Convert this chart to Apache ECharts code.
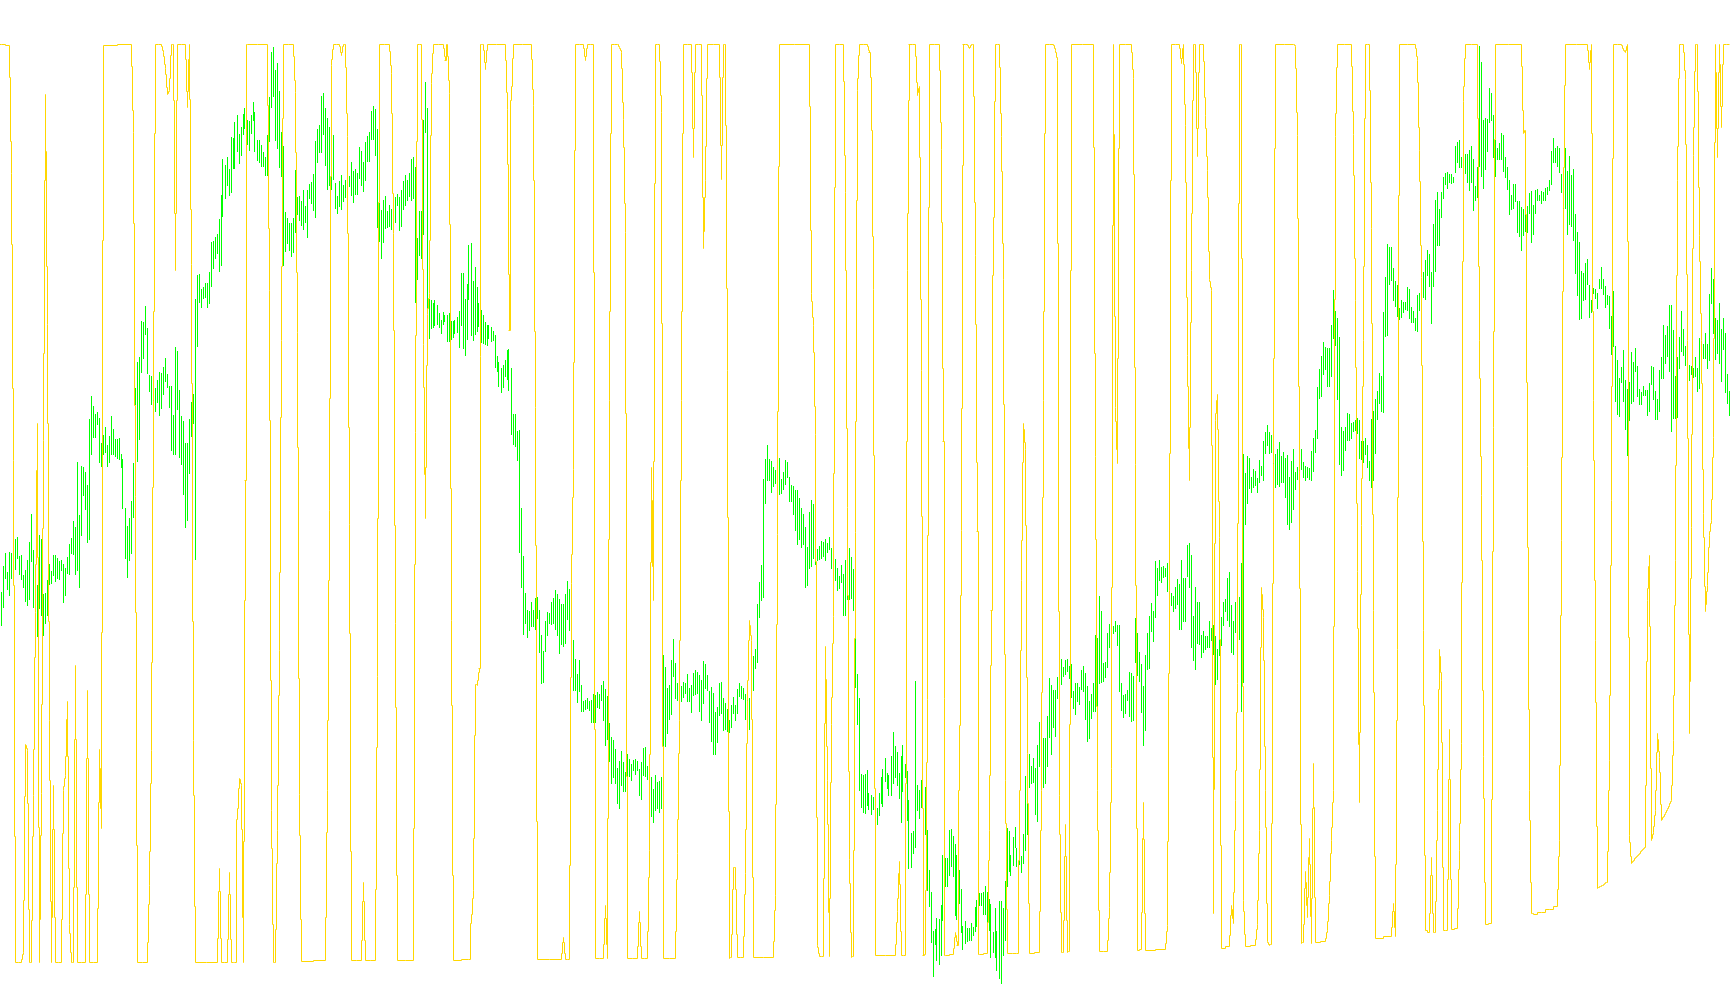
<!DOCTYPE html>
<html><head><meta charset="utf-8">
<script src="https://cdn.jsdelivr.net/npm/echarts@6/dist/echarts.min.js"></script>
<style>html,body{margin:0;padding:0;background:#fff}#c{width:1730px;height:1005px}</style>
</head><body><div id="c"></div>
<script>
// price bars, first stretch: [high, low] on the chart's downward scale
var barsA=[
[592,626],[566,608],[553,579],[572,590],[552,596],[553,579],[548,576],[539,570],[537,559],[556,575],
[555,580],[575,588],[570,602],[560,606],[542,600],[514,562],[550,608],[565,610],[585,637],[535,609],
[539,616],[594,636],[593,624],[580,616],[564,585],[571,584],[555,576],[555,582],[558,579],[561,580],
[560,571],[564,603],[568,596],[557,574],[544,575],[538,554],[521,555],[527,575],[462,571],[515,588],
[466,536],[467,496],[472,510],[485,543],[419,540],[396,455],[406,438],[414,438],[412,425],[418,463],
[443,467],[435,455],[427,453],[445,467],[436,463],[416,455],[429,455],[439,457],[439,459],[438,460],
[454,468],[459,509],[508,559],[526,578],[518,561],[501,554],[463,518],[388,405],[362,462],[357,440],
[321,373],[322,359],[306,335],[328,374],[375,392],[376,405],[397,415],[388,412],[380,403],[372,416],
[373,409],[367,395],[358,382],[374,388],[386,408],[386,451],[415,455],[347,455],[351,410],[390,458],
[416,465],[421,495],[443,528],[443,521],[419,474],[402,437],[394,424],[299,560],[275,347],[274,303],
[289,308],[287,299],[283,298],[283,308],[272,304],[242,287],[241,269],[237,259],[234,254],[219,272],
[195,266],[159,217],[165,199],[157,186],[169,196],[137,193],[138,169],[122,169],[115,152],[134,164],
[127,156],[114,135],[108,129],[120,145],[121,151],[115,134],[102,121],[112,152],[140,161],[140,163],
[145,167],[152,167],[157,176],[135,176],[97,142],[52,108],[47,97],[70,141],[63,149],[91,168],
[132,177],[146,266],[212,252],[218,244],[223,251],[223,257],[218,253],[170,233],[197,215],[196,221],
[201,226],[190,230],[206,223],[190,238],[184,199],[182,204],[174,211],[141,218],[129,163],[125,153],
[96,153],[93,135],[108,166],[118,190],[127,186],[135,190],[135,180],[183,209],[196,214],[181,207],
[175,210],[185,202],[180,198],[176,194],[176,187],[162,196],[171,203],[169,195],[173,195],[147,179],
[151,186],[162,192],[142,181],[136,162],[132,162],[111,140],[106,140],[109,156],[129,228],[203,242],
[210,259],[200,243],[196,229],[211,228],[205,227],[209,230],[217,224],[197,223],[194,206],[197,231],
[190,227],[181,210],[175,206],[180,201],[173,197],[159,201],[157,199],[167,303],[238,280],[211,256],
[211,259],[120,235],[82,133],[108,309],[299,339]];
// second stretch
var barsB=[
[300,329],[303,328],[300,326],[305,325],[313,328],[320,334],[312,325],[315,322],[315,342],[313,342],
[321,340],[321,338],[320,334],[317,333],[311,348],[273,326],[273,349],[299,356],[284,340],[245,300],
[243,336],[281,341],[267,335],[287,332],[303,327],[310,343],[315,344],[322,345],[325,346],[325,339],
[327,342],[331,341],[335,368],[356,372],[362,387],[368,393],[365,388],[360,377],[350,380],[349,391],
[368,435],[414,445],[414,447],[431,461],[430,553],[508,588],[556,635],[593,624],[610,638],[611,631],
[602,627],[610,627],[598,630],[597,619],[610,653],[635,684],[651,683],[621,652],[612,636],[613,624],
[602,625],[598,624],[590,630],[594,636],[599,654],[604,645],[604,647],[594,644],[581,620],[589,631],
[615,660],[640,691],[659,691],[674,703],[660,692],[685,712],[701,712],[700,710],[698,709],[701,711],
[700,723],[694,723],[695,723],[692,708],[694,709],[685,701],[681,721],[689,746],[696,740],[723,762],
[737,784],[740,778],[749,784],[768,804],[761,809],[751,786],[762,792],[772,792],[754,778],[759,777],
[764,781],[760,771],[759,775],[761,771],[769,796],[762,800],[748,776],[747,777],[766,780],[764,784],
[777,817],[789,823],[775,811],[782,809],[781,813],[777,809],[655,747],[667,747],[688,734],[685,720],
[660,715],[639,677],[663,699],[683,701],[686,700],[686,702],[682,698],[683,694],[674,702],[688,702],
[685,713],[673,696],[670,695],[672,694],[675,712],[680,721],[661,704],[664,689],[675,691],[691,723],
[687,742],[693,755],[712,755],[707,743],[683,716],[682,714],[698,731],[703,730],[709,732],[720,733],
[705,728],[697,714],[705,721],[689,714],[683,697],[686,699],[688,700],[694,720],[698,724],[698,730],
[672,700],[656,691],[649,669],[604,663],[582,618],[565,601],[479,598],[459,504],[445,481],[459,481],
[461,493],[467,487],[470,484],[465,482],[458,495],[479,494],[472,490],[460,485],[462,478],[477,502],
[485,502],[486,515],[490,531],[490,545],[498,540],[508,548],[514,545],[527,588],[547,586],[512,569],
[500,567],[504,559],[530,565],[549,561],[546,560],[541,559],[542,557],[539,561],[543,553],[537,550],
[548,569],[555,575],[559,581],[568,591],[576,589],[565,583],[574,616],[560,616],[568,600],[548,600],
[557,599],[569,611],[638,688],[674,725],[698,791]];
// third stretch
var barsC=[
[774,808],[775,813],[774,814],[770,806],[793,810],[795,815],[797,810],[800,815],[808,825],[793,816],
[777,804],[769,807],[758,782],[773,789],[775,796],[756,796],[732,784],[746,778],[752,786],[773,799],
[756,823],[745,792],[764,778],[771,821],[800,869],[833,868],[831,854],[681,848],[785,811],[790,819],
[780,808],[785,800],[787,835],[830,891],[870,907],[892,943],[931,977],[929,945],[918,961],[919,965],
[905,956],[855,921],[858,887],[858,887],[830,876],[829,867],[836,877],[844,916],[855,920],[870,904],
[889,933],[926,950],[921,944],[928,942],[928,941],[923,941],[927,936],[907,932],[900,927],[893,906],
[893,906],[892,915],[886,915],[892,929],[899,931],[904,958],[932,953],[908,958],[931,971],[901,979],
[901,984],[908,956],[881,941],[828,887],[831,872],[855,876],[837,866],[827,848],[848,867],[840,865],
[856,873],[834,864],[776,851],[770,835],[754,788],[766,784],[758,783],[768,815],[745,822],[722,767],
[738,788],[738,788],[738,784],[716,767],[678,738],[685,755],[690,728],[690,737],[677,699],[653,677],
[659,685],[667,677],[660,675],[659,672],[666,679],[664,698],[691,709],[683,715],[683,702],[687,705],
[670,690],[666,692],[673,720],[686,742],[701,739],[694,719],[683,712],[635,712],[638,712],[596,684],
[611,683],[663,682],[662,678],[633,668],[624,648],[626,635],[626,634],[621,632],[625,646],[625,692],
[683,711],[695,718],[694,714],[690,701],[672,717],[673,722],[676,721],[618,663],[633,676],[652,682],
[664,713],[686,746],[655,731],[633,670],[616,669],[603,632],[611,642],[561,618],[568,596],[560,581],
[567,583],[566,578],[568,577],[563,592],[570,590],[593,606],[596,612],[587,609],[579,605],[584,630],
[560,630],[578,622],[578,622],[545,577],[543,588],[555,648],[616,661],[587,670],[602,644],[602,645],
[635,658],[631,653],[636,650],[636,648],[621,648],[628,641],[625,655],[636,685],[649,680],[625,656],
[617,646],[602,626],[599,612],[578,621],[572,627],[605,653],[621,655],[602,633],[600,640],[597,640],
[563,712],[454,683],[473,525],[456,504],[458,489],[477,493],[469,488],[471,486],[478,493],[460,483],
[466,476],[441,481],[432,454],[425,446],[432,454],[435,453],[440,465],[454,488],[449,485],[442,487],
[456,483],[452,483],[458,498],[455,525],[477,530]];
// fourth stretch
var barsD=[
[461,523],[449,510],[472,490],[467,480],[470,485],[449,470],[462,478],[466,481],[467,478],[468,480],
[451,481],[438,472],[430,453],[387,439],[369,399],[356,397],[342,375],[347,370],[348,387],[348,387],
[325,377],[290,339],[311,346],[318,400],[337,465],[427,476],[431,471],[427,451],[413,441],[414,441],
[423,439],[422,432],[420,431],[418,434],[420,459],[441,460],[441,463],[438,455],[445,468],[461,481],
[419,488],[411,481],[399,454],[391,420],[373,404],[376,412],[312,413],[277,337],[244,336],[247,285],
[247,281],[268,301],[281,307],[285,317],[308,320],[300,318],[302,313],[302,310],[287,311],[289,319],
[307,323],[311,323],[318,331],[295,332],[293,311],[285,300],[272,298],[260,300],[250,276],[254,287],
[272,324],[224,287],[200,272],[192,246],[209,246],[192,218],[177,199],[173,185],[172,189],[174,183],
[174,184],[177,183],[146,173],[142,163],[140,168],[157,168],[150,170],[154,174],[154,183],[150,191],
[146,183],[159,211],[186,201],[167,198],[46,167],[62,177],[120,189],[118,170],[119,152],[88,123],
[93,121],[115,158],[140,177],[148,160],[143,160],[133,160],[135,172],[157,178],[167,190],[180,215],
[195,210],[184,209],[184,202],[201,233],[201,237],[207,251],[209,236],[208,232],[206,233],[193,214],
[191,243],[205,235],[190,214],[189,201],[195,201],[191,204],[192,201],[188,201],[187,195],[180,191],
[151,185],[138,163],[148,163],[146,167],[148,173],[174,193],[179,223],[148,209],[171,235],[156,225],
[175,227],[169,241],[214,274],[232,296],[242,320],[271,319],[273,301],[263,300],[259,285],[285,318],
[300,313],[288,294],[289,299],[293,309],[279,289],[267,289],[279,295],[286,308],[295,305],[296,329],
[316,355],[291,347],[346,402],[360,415],[378,417],[367,383],[350,402],[380,430],[389,456],[382,421],
[352,404],[362,402],[348,372],[366,397],[389,405],[392,405],[386,396],[390,396],[390,416],[383,412],
[366,385],[367,400],[391,420],[399,420],[370,412],[357,379],[325,379],[335,364],[326,357],[305,372],
[305,432],[330,419],[376,419],[357,418],[337,369],[311,352],[329,356],[346,366],[356,371],[365,381],
[366,375],[368,378],[357,377],[368,392],[338,389],[344,359],[344,359],[333,359],[344,369],[294,361],
[268,304],[279,334],[318,360],[320,354],[303,364],[329,382],[318,350],[333,393],[374,404],[391,416]];
// oscillator readings: [bar number, level]; between listed bars the line stays on its rail
var oscPoints=[
[0,44],[4,45],[5,173],[6,460],[7,962],[10,962],[11,952],[12,744],[13,750],[14,962],[15,962],[16,795],[17,612],[18,423],[19,962],[20,793],[21,440],[22,94],[23,324],[24,720],[25,962],[26,785],[27,962],[30,962],[31,790],[32,775],[33,701],[34,924],[35,962],[36,962],[37,665],[38,962],[42,962],[43,690],[44,962],[48,962],[49,749],[50,828],[51,45],[65,44],[66,132],[67,496],[68,962],[73,962],[74,885],[75,750],[76,400],[77,44],[80,44],[81,52],[82,68],[83,94],[84,90],[85,44],[86,44],[87,270],[88,44],[92,44],[93,107],[94,44],[95,264],[96,740],[97,962],[108,962],[109,868],[110,962],[113,962],[114,872],[115,962],[117,962],[118,819],[119,778],[120,785],[121,962],[122,480],[123,44],[133,44],[134,290],[135,810],[136,962],[137,962],[138,830],[139,650],[140,340],[141,44],[146,44],[147,92],[148,332],[149,794],[150,961],[162,960],[163,790],[164,510],[165,65],[166,44],[169,44],[170,55],[171,44],[172,44],[173,136],[174,524],[175,960],[180,960],[181,882],[182,960],[187,960],[188,676],[189,44],[194,44],[195,73],[196,233],[197,623],[198,960],[206,960],[207,432],[208,44],[210,44],[211,344],[212,518],[213,314],[214,293],[215,83],[216,44],
[221,44],[222,60],[223,44],[224,93],[225,620],[226,960],[234,959],[235,923],[236,890],[237,684],[238,685],[239,668],[240,44],[241,44],[242,69],[243,44],[252,44],[253,109],[254,330],[255,100],[256,44],[265,44],[266,105],[267,407],[268,959],[280,959],[281,937],[282,959],[284,959],[285,583],[286,469],[287,44],[291,44],[292,60],[293,44],[296,44],[297,958],[301,958],[302,905],[303,958],[304,400],[305,44],[308,44],[309,47],[310,52],[311,119],[312,232],[313,958],[318,958],[319,911],[320,958],[323,958],[324,850],[325,467],[326,600],[327,44],[329,44],[330,112],[331,958],[337,958],[338,853],[339,720],[340,400],[341,44],[345,44],[346,157],[347,44],[350,44],[351,248],[352,180],[353,44],[359,44],[360,179],[361,44],[362,44],[363,370],[364,958],[365,957],[366,867],[367,867],[368,957],[371,957],[372,873],[373,700],[374,620],[375,640],[376,957],[386,957],[387,895],[388,534],[389,44],[404,44],[405,293],[406,325],[407,434],[408,945],[409,956],[411,956],[412,646],[413,780],[414,956],[415,724],[416,616],[417,44],[421,44],[422,192],[423,507],[424,859],[425,957],[426,956],[427,532],[428,90],[429,44],
[433,44],[434,52],[435,77],[436,289],[437,955],[447,955],[448,911],[449,861],[450,955],[452,955],[453,270],[454,44],[457,44],[458,95],[459,86],[460,370],[461,955],[462,954],[463,699],[464,44],[469,44],[470,149],[471,441],[472,955],[476,954],[477,932],[478,945],[479,790],[480,530],[481,44],[483,44],[484,48],[485,44],[486,44],[487,255],[488,531],[489,954],[493,953],[494,830],[495,610],[496,275],[497,44],[499,44],[500,136],[501,279],[502,780],[503,953],[508,953],[509,860],[510,580],[511,423],[512,449],[513,753],[514,953],[519,952],[520,790],[521,400],[522,44],[526,44],[527,50],[528,60],[529,795],[530,952],[531,952],[532,824],[533,952],[534,951],[535,44],[546,44],[547,456],[548,790],[549,951],[553,951],[554,907],[555,768],[556,44],[557,407],[558,463],[559,44],[565,44],[566,78],[567,464],[568,950],[570,949],[571,802],[572,950],[582,949],[583,925],[584,590],[585,44],[589,44],[590,63],[591,44],[592,125],[593,355],[594,480],[595,270],[596,44],[597,44],[598,156],[599,44],[601,44],[602,115],[603,170],[604,279],[605,290],[606,913],[607,420],[608,394],[609,537],[610,948],[614,946],[615,905],[616,923],[617,800],[618,683],[619,44],[620,44],[621,900],[622,946],[627,945],[628,924],[629,830],[630,587],[631,617],[632,790],[633,941],[634,945],[635,944],[636,463],[637,44],
[646,44],[647,46],[648,135],[649,470],[650,943],[651,942],[652,871],[653,917],[654,838],[655,943],[656,763],[657,942],[662,941],[663,930],[664,895],[665,840],[666,790],[667,136],[668,44],[675,44],[676,134],[677,300],[678,571],[679,802],[680,525],[681,340],[682,44],[684,44],[685,228],[686,610],[687,938],[695,936],[696,903],[697,936],[698,649],[699,44],[707,44],[708,60],[709,150],[710,277],[711,630],[712,930],[714,932],[715,857],[716,932],[717,932],[718,810],[719,649],[720,680],[721,930],[723,930],[724,729],[725,929],[728,928],[729,850],[730,743],[731,101],[732,44],[738,44],[739,340],[740,495],[741,756],[742,924],[745,923],[746,427],[747,44],[760,44],[761,133],[762,130],[763,466],[764,790],[765,913],[766,914],[770,912],[774,909],[778,906],[779,840],[780,540],[781,208],[782,44],[793,44],[794,69],[795,44],[796,400],[797,640],[798,888],[799,887],[800,886],[801,885],[802,883],[803,882],[804,760],[805,500],[806,44],[810,44],[811,50],[812,52],[813,44],[814,835],[815,863],[816,861],[817,858],[818,856],[819,854],[820,851],[821,849],[822,847],[823,600],[824,555],[825,840],[826,832],[827,810],[828,733],[829,757],[830,820],[831,817],[832,813],[833,809],[834,805],[835,800],[836,740],[837,560],[838,180],[839,44],[841,44],[842,79],[843,340],[844,733],[845,527],[846,155],[847,44],[848,44],[849,235],[850,340],[851,513],[852,611],[853,585],[854,535],[855,520],[856,437],[857,44],[858,157],[859,44],[860,127],[861,44],[864,44]];

var allBars=barsA.concat(barsB,barsC,barsD);
var barNames=allBars.map(function(_,i){return String(i);});
var barData=allBars.map(function(b,i){return [i,b[0],b[1]];});
var oscData=[];
for(var n=1;n<oscPoints.length;n++){oscData.push([oscPoints[n][0],oscPoints[n][1],oscPoints[n-1][0],oscPoints[n-1][1]]);}

function drawBar(params,api){
  var a=api.coord([api.value(0),api.value(1)]),b=api.coord([api.value(0),api.value(2)]);
  var y0=Math.round(a[1]),y1=Math.round(b[1]);
  return {type:'rect',shape:{x:Math.floor(a[0]),y:y0,width:1,height:y1-y0},style:{fill:'#00FF00'},silent:true};
}
function drawOsc(params,api){
  var p=api.coord([api.value(2),api.value(3)]),q=api.coord([api.value(0),api.value(1)]);
  var snapY=function(v){return Math.floor(v)+0.5;};
  var x0=Math.floor(p[0])+0.5,x1=Math.floor(q[0])+0.5;
  var d=q[1]-p[1],pts;
  if(x1-x0<=2){
    pts=[[x0,snapY(p[1])],[x0,snapY(p[1]+d/4)],[x0+1,snapY(p[1]+d/4)],[x0+1,snapY(p[1]+3*d/4)],[x0+2,snapY(p[1]+3*d/4)],[x0+2,snapY(q[1])]];
  }else{
    var m=Math.floor((x0+x1)/2)+0.5;
    pts=[[x0,snapY(p[1])],[m,snapY(p[1])],[m,snapY(q[1])],[x1,snapY(q[1])]];
  }
  // the line runs in from the window's left edge
  if(params.dataIndex===0){pts.unshift([0,pts[0][1]]);}
  return {type:'polyline',shape:{points:pts},style:{stroke:'#FFD700',lineWidth:1,fill:null},silent:true};
}
var chart=echarts.init(document.getElementById('c'),null,{renderer:'canvas',devicePixelRatio:1});
chart.setOption({
  animation:false,
  backgroundColor:'#ffffff',
  tooltip:{show:false},
  grid:{left:0,top:0,width:1730,height:1005,containLabel:false},
  xAxis:{type:'category',data:barNames,show:false,boundaryGap:true},
  yAxis:{type:'value',inverse:true,min:0,max:1005,show:false,splitLine:{show:false}},
  series:[
    {type:'custom',coordinateSystem:'cartesian2d',clip:false,silent:true,renderItem:drawBar,data:barData,encode:{x:0,y:[1,2]},z:2},
    {type:'custom',coordinateSystem:'cartesian2d',clip:false,silent:true,renderItem:drawOsc,data:oscData,encode:{x:0,y:1},z:3}
  ]
});
</script>
</body></html>
